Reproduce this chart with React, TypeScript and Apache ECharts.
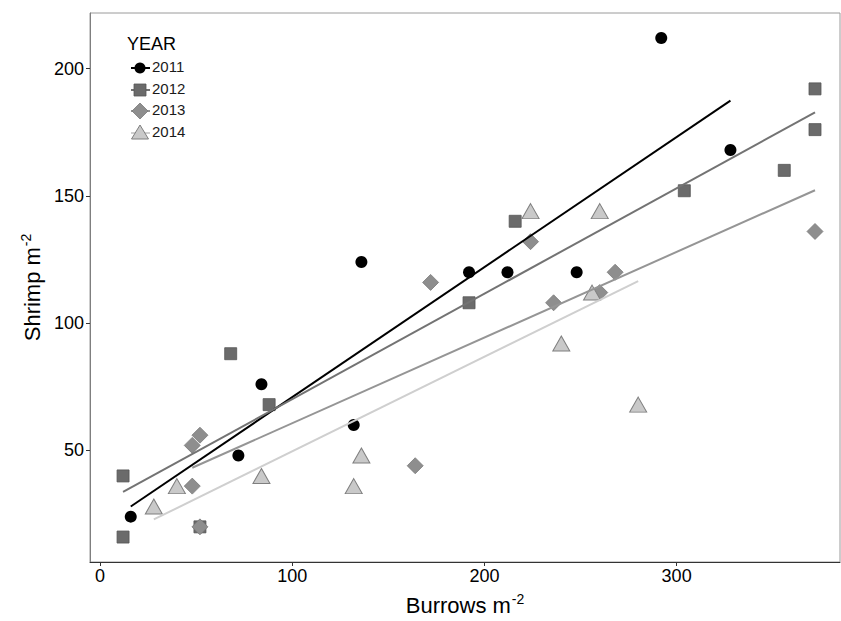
import React, { useEffect, useRef } from 'react';
import * as echarts from 'echarts';

const years = ['2011', '2012', '2013', '2014'];

const burrows2011 = [16, 72, 84, 132, 136, 192, 212, 248, 292, 328];
const shrimp2011 = [24, 48, 76, 60, 124, 120, 120, 120, 212, 168];

const burrows2012 = [12, 12, 52, 68, 88, 192, 216, 304, 356, 372, 372];
const shrimp2012 = [40, 16, 20, 88, 68, 108, 140, 152, 160, 192, 176];

const burrows2013 = [48, 52, 48, 52, 164, 172, 224, 236, 260, 268, 372];
const shrimp2013 = [52, 56, 36, 20, 44, 116, 132, 108, 112, 120, 136];

const burrows2014 = [28, 40, 84, 132, 136, 224, 260, 256, 240, 280];
const shrimp2014 = [28, 36, 40, 36, 48, 144, 144, 112, 92, 68];

// fitted regression line ends (x, y) per year
const fitX2011 = [16, 328];
const fitY2011 = [28.0, 187.4];
const fitX2012 = [12, 372];
const fitY2012 = [33.7, 182.8];
const fitX2013 = [48, 372];
const fitY2013 = [43.2, 152.2];
const fitX2014 = [28, 280];
const fitY2014 = [22.9, 116.5];

const xTickValues = [0, 100, 200, 300];
const yTickValues = [50, 100, 150, 200];

const pair = (xs: number[], ys: number[]) => xs.map((x, i) => [x, ys[i]]);

const styles = [
  { symbol: 'circle', size: 12, fill: '#000000', border: '#000000', bw: 0, line: '#000000' },
  { symbol: 'rect', size: 12, fill: '#6b6b6b', border: '#555555', bw: 0.8, line: '#737373' },
  { symbol: 'diamond', size: 16, fill: '#8e8e8e', border: '#7a7a7a', bw: 0.8, line: '#959595' },
  { symbol: 'triangle', size: [17, 15], fill: '#c9c9c9', border: '#7f7f7f', bw: 1, line: '#cfcfcf' },
];

export default function App() {
  const ref = useRef<HTMLDivElement>(null);
  useEffect(() => {
    if (!ref.current) return;
    const chart = echarts.init(ref.current, null, { renderer: 'svg' });
    const pts = [
      pair(burrows2011, shrimp2011),
      pair(burrows2012, shrimp2012),
      pair(burrows2013, shrimp2013),
      pair(burrows2014, shrimp2014),
    ];
    const fits = [
      pair(fitX2011, fitY2011),
      pair(fitX2012, fitY2012),
      pair(fitX2013, fitY2013),
      pair(fitX2014, fitY2014),
    ];
    const series: any[] = [];
    years.forEach((y, i) => {
      const s = styles[i];
      series.push({
        type: 'scatter',
        name: y,
        data: pts[i],
        symbol: s.symbol,
        symbolSize: s.size,
        itemStyle: { color: s.fill, borderColor: s.border, borderWidth: s.bw, opacity: 1 },
        z: 2 + i,
        silent: true,
      });
    });
    years.forEach((y, i) => {
      const s = styles[i];
      series.push({
        type: 'line',
        name: y + ' fit',
        data: fits[i],
        showSymbol: false,
        symbol: 'none',
        lineStyle: { color: s.line, width: 2 },
        z: 10 + i,
        silent: true,
      });
    });

    const font = 'Liberation Sans, Arial, sans-serif';
    // legend built with graphic elements
    const legendItems: any[] = [
      { type: 'text', left: 127, top: 35, style: { text: 'YEAR', fontSize: 18, fill: '#000', fontFamily: font } },
    ];
    const rowY = [68, 90, 111, 133];
    years.forEach((y, i) => {
      const s = styles[i];
      const cy = rowY[i];
      legendItems.push({ type: 'line', shape: { x1: 131, y1: cy, x2: 150, y2: cy }, style: { stroke: s.line, lineWidth: 2 } });
      if (i === 0) {
        legendItems.push({ type: 'circle', shape: { cx: 140, cy, r: 5.5 }, style: { fill: s.fill } });
      } else if (i === 1) {
        legendItems.push({ type: 'rect', shape: { x: 134, y: cy - 6, width: 12, height: 12 }, style: { fill: s.fill, stroke: s.border, lineWidth: 0.8 } });
      } else if (i === 2) {
        legendItems.push({ type: 'polygon', shape: { points: [[140, cy - 8], [148, cy], [140, cy + 8], [132, cy]] }, style: { fill: s.fill, stroke: s.border, lineWidth: 0.8 } });
      } else {
        legendItems.push({ type: 'polygon', shape: { points: [[140, cy - 8], [148.5, cy + 6], [131.5, cy + 6]] }, style: { fill: s.fill, stroke: s.border, lineWidth: 1 } });
      }
      legendItems.push({ type: 'text', left: 152, top: cy - 9, style: { text: y, fontSize: 15, fill: '#1a1a1a', fontFamily: font } });
    });

    chart.setOption({
      animation: false,
      backgroundColor: '#ffffff',
      textStyle: { fontFamily: font },
      grid: { left: 90, right: 1, top: 13, bottom: 59, show: true, borderColor: '#9a9a9a', borderWidth: 1, backgroundColor: 'transparent' },
      xAxis: {
        type: 'value',
        min: -5.2,
        max: 385,
        splitLine: { show: false },
        axisLine: { show: true, onZero: false, lineStyle: { color: '#333333', width: 1 } },
        axisTick: { show: true, length: 4, lineStyle: { color: '#333333' }, customValues: xTickValues },
        axisLabel: { customValues: xTickValues, fontSize: 18, color: '#000', margin: 5, fontFamily: font },
        name: 'Burrows m{sup|-2}',
        nameLocation: 'middle',
        nameGap: 30,
        nameTextStyle: {
          fontSize: 22,
          color: '#000',
          fontFamily: font,
          rich: { sup: { fontSize: 14, color: '#000', padding: [0, 0, 12, 1], fontFamily: font } },
        },
      },
      yAxis: {
        type: 'value',
        min: 6.2,
        max: 221.8,
        splitLine: { show: false },
        axisLine: { show: true, onZero: false, lineStyle: { color: '#7f7f7f', width: 1 } },
        axisTick: { show: true, length: 4, lineStyle: { color: '#333333' }, customValues: yTickValues },
        axisLabel: { customValues: yTickValues, fontSize: 18, color: '#000', margin: 6, fontFamily: font },
        name: 'Shrimp m{sup|-2}',
        nameLocation: 'middle',
        nameGap: 44,
        nameTextStyle: {
          fontSize: 22,
          color: '#000',
          fontFamily: font,
          rich: { sup: { fontSize: 14, color: '#000', padding: [0, 0, 12, 1], fontFamily: font } },
        },
      },
      series,
      graphic: legendItems,
    });
    return () => chart.dispose();
  }, []);
  return <div ref={ref} style={{ width: 841, height: 621, position: 'absolute', left: 0, top: 0 }} />;
}
